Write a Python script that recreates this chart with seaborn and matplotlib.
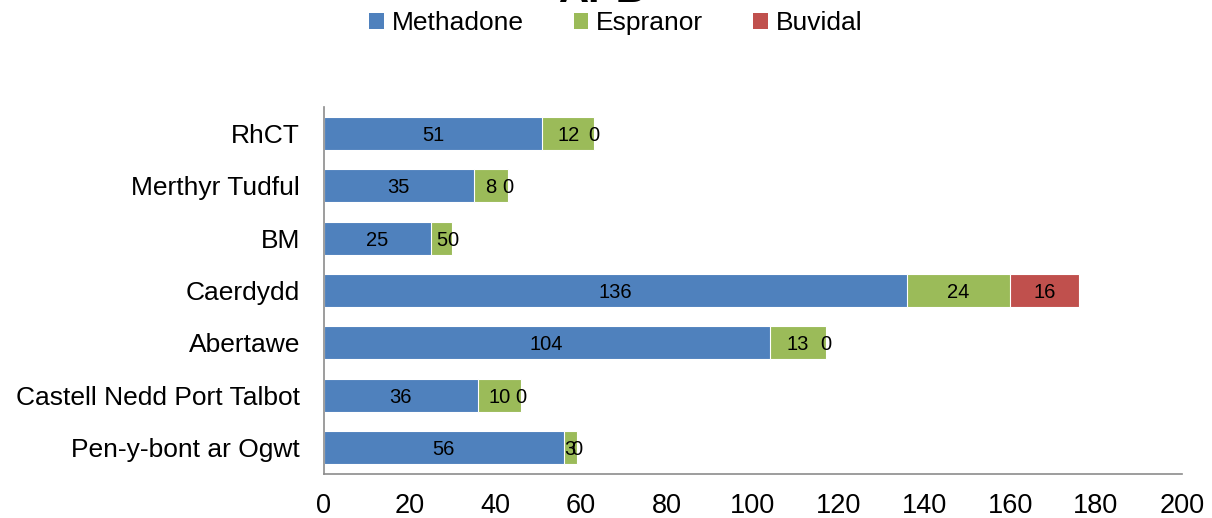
import numpy as np
import pandas as pd
import matplotlib
matplotlib.use("Agg")
import matplotlib.pyplot as plt
from matplotlib.patches import Patch
import seaborn as sns

# data
areas = ["RhCT", "Merthyr Tudful", "BM", "Caerdydd", "Abertawe",
         "Castell Nedd Port Talbot", "Pen-y-bont ar Ogwt"]
methadone = [51, 35, 25, 136, 104, 36, 56]
espranor = [12, 8, 5, 24, 13, 10, 3]
buvidal = [0, 0, 0, 16, 0, 0, 0]
series_names = ["Methadone", "Espranor", "Buvidal"]
colors = ["#4F81BD", "#9BBB59", "#C0504D"]
x_ticks = list(range(0, 201, 20))

sns.set_style("white")
plt.rcParams["font.family"] = ["Liberation Sans", "DejaVu Sans"]
plt.rcParams["text.color"] = "black"
plt.rcParams["xtick.color"] = "black"
plt.rcParams["ytick.color"] = "black"

df = pd.DataFrame({"area": areas, "Methadone": methadone,
                   "Espranor": espranor, "Buvidal": buvidal})
# cumulative ends of each segment
cum = df[series_names].cumsum(axis=1)

fig = plt.figure(figsize=(12.12, 5.18), dpi=100)
ax = fig.add_axes([0.267, 0.085, 0.708, 0.708])

# draw from the longest cumulative bar to the shortest so they look stacked
for name, col in reversed(list(zip(series_names, colors))):
    sns.barplot(x=cum[name], y=df["area"], color=col, orient="h",
                width=0.63, edgecolor="white", linewidth=0.8,
                saturation=1, ax=ax)

# segment labels centred in each segment
for i, name in enumerate(series_names):
    starts = cum[name] - df[name]
    for j, v in enumerate(df[name]):
        ax.text(starts[j] + v / 2, j, str(v), ha="center",
                va="center_baseline", fontsize=14.5, color="black")

ax.set_xlim(0, 200)
ax.set_xticks(x_ticks)
ax.set_xlabel("")
ax.set_ylabel("")
ax.tick_params(axis="x", labelsize=19.5, length=0, pad=14)
ax.tick_params(axis="y", labelsize=19, length=0, pad=17)
for s in ["top", "right"]:
    ax.spines[s].set_visible(False)
for s in ["left", "bottom"]:
    ax.spines[s].set_color("#8C8C8C")
    ax.spines[s].set_linewidth(1.2)

handles = [Patch(facecolor=c, edgecolor="none") for c in colors]
fig.legend(handles, series_names, loc="center", bbox_to_anchor=(0.508, 0.955),
           ncol=3, frameon=False, fontsize=19, handlelength=0.55,
           handleheight=0.55, handletextpad=0.3, columnspacing=1.9)

# title sits mostly above the canvas, as in the reference
fig.text(0.497, 0.997, "APB", ha="center", va="baseline", fontsize=30,
         fontweight="bold")

fig.savefig("out.png", dpi=100)
